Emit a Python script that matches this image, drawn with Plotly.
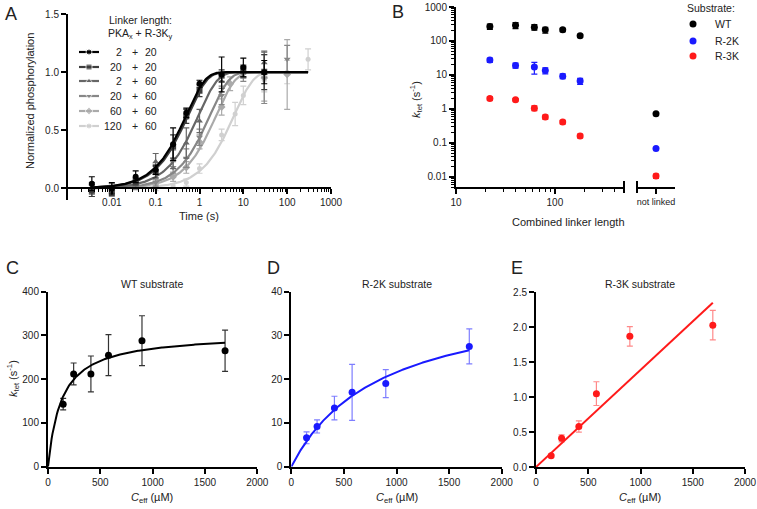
import numpy as np
import plotly.graph_objects as go

W, H = 757, 509
FONT = "Liberation Sans, Arial, sans-serif"

# ---------------- panel A: time courses (PKA_x + R-3K_y) ----------------
linker_pka = ["2", "20", "2", "20", "60", "120"]
linker_r3k = ["20", "20", "60", "60", "60", "60"]
a_colors = ["#000000", "#3d3d3d", "#666666", "#878787", "#aaaaaa", "#d0d0d0"]
a_symbols = ["circle", "square", "triangle-up", "triangle-down", "diamond", "circle"]
a_rates = [2.0, 1.82, 1.04, 0.57, 0.41, 0.16]  # fitted single-exponential rates (s^-1)

a_time = [
    [0.0035, 0.01, 0.035, 0.1, 0.25, 0.5, 1, 3.2, 10, 30],
    [0.0035, 0.01, 0.035, 0.1, 0.25, 0.5, 1, 3.2, 10, 30],
    [0.0035, 0.01, 0.035, 0.1, 0.25, 0.5, 1, 3.2, 10, 30],
    [0.0035, 0.01, 0.035, 0.1, 0.25, 0.5, 1, 3.2, 10, 30, 100],
    [0.1, 0.25, 0.5, 1, 3.2, 5, 10, 30, 100],
    [0.1, 0.25, 0.5, 1, 3.2, 6.5, 10, 30, 100, 300],
]
a_val = [
    [0.04, 0.00, 0.10, 0.16, 0.38, 0.65, 0.90, 0.98, 1.04, 1.00],
    [-0.02, -0.02, 0.06, 0.14, 0.36, 0.62, 0.84, 0.97, 1.01, 1.00],
    [0.00, 0.00, 0.03, 0.23, 0.25, 0.39, 0.58, 0.92, 1.00, 1.08],
    [-0.02, -0.03, 0.02, 0.05, 0.18, 0.26, 0.44, 0.80, 0.98, 0.95, 1.11],
    [0.04, 0.10, 0.18, 0.40, 0.70, 0.90, 1.00, 0.95, 0.98],
    [0.00, 0.02, 0.05, 0.17, 0.46, 0.64, 0.80, 0.93, 1.00, 1.11],
]
a_err = [
    [0.06, 0.05, 0.05, 0.04, 0.14, 0.04, 0.03, 0.15, 0.08, 0.10],
    [0.05, 0.04, 0.03, 0.05, 0.10, 0.06, 0.05, 0.05, 0.05, 0.15],
    [0.05, 0.04, 0.03, 0.07, 0.08, 0.13, 0.10, 0.06, 0.05, 0.10],
    [0.05, 0.04, 0.03, 0.03, 0.05, 0.08, 0.07, 0.08, 0.06, 0.22, 0.12],
    [0.03, 0.04, 0.05, 0.06, 0.07, 0.06, 0.05, 0.20, 0.30],
    [0.02, 0.02, 0.03, 0.04, 0.05, 0.10, 0.08, 0.10, 0.10, 0.09],
]

# ---------------- panels B-E: kcat vs linker / Ceff ----------------
c_eff = [145, 245, 410, 578, 898, 1692]          # µM
linker_total = [180, 120, 80, 62, 40, 22]        # combined linker length, same order
k_wt = [143, 212, 212, 255, 288, 265]
k_wt_err = [13, 25, 41, 47, 57, 47]
k_2k = [6.6, 9.2, 13.4, 17.0, 19.0, 27.5]
k_2k_err = [1.35, 1.5, 2.7, 6.4, 3.2, 4.0]
k_3k = [0.16, 0.41, 0.58, 1.05, 1.87, 2.03]
k_3k_err = [0.02, 0.05, 0.08, 0.17, 0.14, 0.21]
unlinked = {"WT": (0.72, 0.03), "R-2K": (0.068, 0.004), "R-3K": (0.0105, 0.0015)}

# fitted hyperbolas kmax*C/(K+C); R-3K is close to linear
fit_wt = (305, 130)
fit_2k = (40, 850)
slope_3k = 1.39e-3

sub_colors = {"WT": "#000000", "R-2K": "#1a1aff", "R-3K": "#ff1a1a"}


def px(x):
    return x / W


def py(y):
    return 1 - y / H


def log_minor(lo, hi):
    return [m * 10.0 ** e for e in range(lo, hi) for m in range(2, 10)]


fig = go.Figure()

# panel A curves + points (lightest first so black ends on top)
t_fit = np.logspace(-2.5, np.log10(300), 250)
for i in reversed(range(6)):
    fig.add_trace(go.Scatter(
        x=t_fit, y=1 - np.exp(-a_rates[i] * t_fit), mode="lines",
        line=dict(color=a_colors[i], width=2.2), xaxis="x", yaxis="y", hoverinfo="skip"))
    fig.add_trace(go.Scatter(
        x=a_time[i], y=a_val[i], mode="markers",
        marker=dict(color=a_colors[i], size=6 if i < 5 else 5, symbol=a_symbols[i]),
        error_y=dict(type="data", array=a_err[i], color=a_colors[i], thickness=1.2, width=3),
        xaxis="x", yaxis="y", cliponaxis=False))

# panel B
for name, vals, errs in [("WT", k_wt, k_wt_err), ("R-2K", k_2k, k_2k_err), ("R-3K", k_3k, k_3k_err)]:
    col = sub_colors[name]
    fig.add_trace(go.Scatter(
        x=linker_total, y=vals, mode="markers", marker=dict(color=col, size=7),
        error_y=dict(type="data", array=errs, color=col, thickness=1.2, width=3),
        xaxis="x2", yaxis="y2", cliponaxis=False))
    v, e = unlinked[name]
    fig.add_trace(go.Scatter(
        x=[0], y=[v], mode="markers", marker=dict(color=col, size=7),
        error_y=dict(type="data", array=[e], color=col, thickness=1.2, width=3),
        xaxis="x3", yaxis="y2", cliponaxis=False))

# panels C, D, E
c_line = np.linspace(0, 1692, 200)
panels = [
    ("x4", "y4", k_wt, k_wt_err, fit_wt[0] * c_line / (fit_wt[1] + c_line), "#000000", "rgba(0,0,0,0.8)"),
    ("x5", "y5", k_2k, k_2k_err, fit_2k[0] * c_line / (fit_2k[1] + c_line), "#1a1aff", "rgba(40,40,255,0.6)"),
    ("x6", "y6", k_3k, k_3k_err, slope_3k * c_line, "#ff1a1a", "rgba(255,40,40,0.55)"),
]
for xa, ya, vals, errs, curve, col, ecol in panels:
    fig.add_trace(go.Scatter(x=c_line, y=curve, mode="lines", line=dict(color=col, width=2),
                             xaxis=xa, yaxis=ya, hoverinfo="skip"))
    fig.add_trace(go.Scatter(
        x=c_eff, y=vals, mode="markers", marker=dict(color=col, size=7),
        error_y=dict(type="data", array=errs, color=ecol, thickness=1.2, width=3),
        xaxis=xa, yaxis=ya, cliponaxis=False))

# legend glyphs drawn on a pixel overlay axis
rows_a = [52, 67, 81, 96, 111, 126]
for i, r in enumerate(rows_a):
    fig.add_trace(go.Scatter(
        x=[79, 89, 99], y=[r, r, r], mode="lines+markers",
        line=dict(color=a_colors[i], width=2.2),
        marker=dict(color=a_colors[i], size=[0, 6, 0], symbol=a_symbols[i]),
        xaxis="x7", yaxis="y7", hoverinfo="skip"))
rows_b = [24, 41, 56]
for name, r in zip(["WT", "R-2K", "R-3K"], rows_b):
    fig.add_trace(go.Scatter(x=[693], y=[r], mode="markers",
                             marker=dict(color=sub_colors[name], size=7),
                             xaxis="x7", yaxis="y7", hoverinfo="skip"))

axis_style = dict(showline=True, linecolor="black", linewidth=2, ticks="outside", ticklen=5,
                  tickwidth=1.5, tickcolor="black", showgrid=False, zeroline=False,
                  tickfont=dict(size=10, color="#222"))


def minor_ticks(vals):
    return dict(tickmode="array", tickvals=vals, ticks="outside", ticklen=3,
                tickwidth=1, tickcolor="black", showgrid=False)


layout = dict(
    width=W, height=H, margin=dict(l=0, r=0, t=0, b=0, autoexpand=False),
    plot_bgcolor="rgba(0,0,0,0)", paper_bgcolor="white", showlegend=False,
    font=dict(family=FONT, color="#222"),
    xaxis=dict(axis_style, type="log", range=[-3, 3], domain=[px(68), px(331)],
               anchor="free", position=py(188.4),
               tickmode="array", tickvals=[0.01, 0.1, 1, 10, 100, 1000],
               ticktext=["0.01", "0.1", "1", "10", "100", "1000"],
               minor=minor_ticks(log_minor(-3, 3))),
    yaxis=dict(axis_style, range=[-0.1, 1.5], domain=[py(200), py(14)], anchor="x",
               tickmode="array", tickvals=[0, 0.5, 1, 1.5], ticktext=["0.0", "0.5", "1.0", "1.5"]),
    xaxis2=dict(axis_style, type="log", range=[1, float(np.log10(500))], domain=[px(456), px(624)],
                anchor="y2", tickmode="array", tickvals=[10, 100], ticktext=["10", "100"],
                minor=minor_ticks([v for v in log_minor(1, 3) if v <= 500])),
    yaxis2=dict(axis_style, type="log", range=[float(np.log10(0.005)), 3], domain=[py(187), py(7)],
                anchor="x2", tickmode="array", tickvals=[0.01, 0.1, 1, 10, 100, 1000],
                ticktext=["0.01", "0.1", "1", "10", "100", "1000"],
                minor=minor_ticks(log_minor(-3, 3))),
    xaxis3=dict(axis_style, range=[-1, 1], domain=[px(637), px(675)], anchor="y2",
                tickmode="array", tickvals=[0], ticktext=["not linked"],
                tickfont=dict(size=9, color="#222")),
    xaxis4=dict(axis_style, range=[0, 2000], domain=[px(48), px(257.3)], anchor="y4", dtick=500),
    yaxis4=dict(axis_style, range=[0, 400], domain=[py(466.7), py(291.7)], anchor="x4", dtick=100),
    xaxis5=dict(axis_style, range=[0, 2000], domain=[px(291.3), px(501.7)], anchor="y5", dtick=500),
    yaxis5=dict(axis_style, range=[0, 40], domain=[py(466.7), py(291.7)], anchor="x5", dtick=10),
    xaxis6=dict(axis_style, range=[0, 2000], domain=[px(536), px(745)], anchor="y6", dtick=500),
    yaxis6=dict(axis_style, range=[0, 2.5], domain=[py(467), py(292.3)], anchor="x6",
                tickmode="array", tickvals=[0, 0.5, 1, 1.5, 2, 2.5],
                ticktext=["0.0", "0.5", "1.0", "1.5", "2.0", "2.5"]),
    xaxis7=dict(visible=False, range=[0, W], domain=[0, 1], anchor="y7"),
    yaxis7=dict(visible=False, range=[H, 0], domain=[0, 1], anchor="x7"),
)
fig.update_layout(**layout)

# axis-break caps in panel B
for xc in [624, 637]:
    fig.add_shape(type="line", xref="paper", yref="paper", x0=px(xc), x1=px(xc),
                  y0=py(181), y1=py(193), line=dict(color="black", width=2))


def ann(x, y, text, size=11, angle=0, xanchor="center"):
    fig.add_annotation(x=px(x), y=py(y), xref="paper", yref="paper", text=text,
                       showarrow=False, font=dict(size=size, color="#222", family=FONT),
                       textangle=angle, xanchor=xanchor, yanchor="middle")


# panel letters
for letter, (x, y) in {"A": (11, 14), "B": (398, 12), "C": (12, 268), "D": (273, 268), "E": (517, 268)}.items():
    ann(x, y, letter, size=18)

# panel A texts
ann(30, 101, "Normalized phosphorylation", angle=-90)
ann(199, 216, "Time (s)")
ann(140, 20, "Linker length:", size=10.5)
ann(140, 34, "PKA<sub>x</sub> + R-3K<sub>y</sub>", size=10.5)
for i, r in enumerate(rows_a):
    ann(124, r, linker_pka[i], size=10.5, xanchor="right")
    ann(135, r, "+", size=10.5)
    ann(143, r, linker_r3k[i], size=10.5, xanchor="left")

# panel B texts
ann(416, 100, "<i>k</i><sub>tet</sub> (s<sup>-1</sup>)", angle=-90)
ann(568, 222, "Combined linker length")
ann(711, 8, "Substrate:", size=10.5)
for name, r in zip(["WT", "R-2K", "R-3K"], rows_b):
    ann(713, r, name, size=10.5, xanchor="left")

# panels C-E texts
ann(13, 379, "<i>k</i><sub>tet</sub> (s<sup>-1</sup>)", angle=-90)
for x, t in [(152, "WT substrate"), (397, "R-2K substrate"), (640, "R-3K substrate")]:
    ann(x, 284, t, size=10.5)
for x in [152, 397, 640]:
    ann(x, 498, "<i>C</i><sub>eff</sub> (µM)")

# drop the default page margin so the 757x509 figure fills the window exactly
fig.write_html("out.html", config={"displayModeBar": False},
               post_script="document.body.style.margin='0';document.body.style.overflow='hidden';")
